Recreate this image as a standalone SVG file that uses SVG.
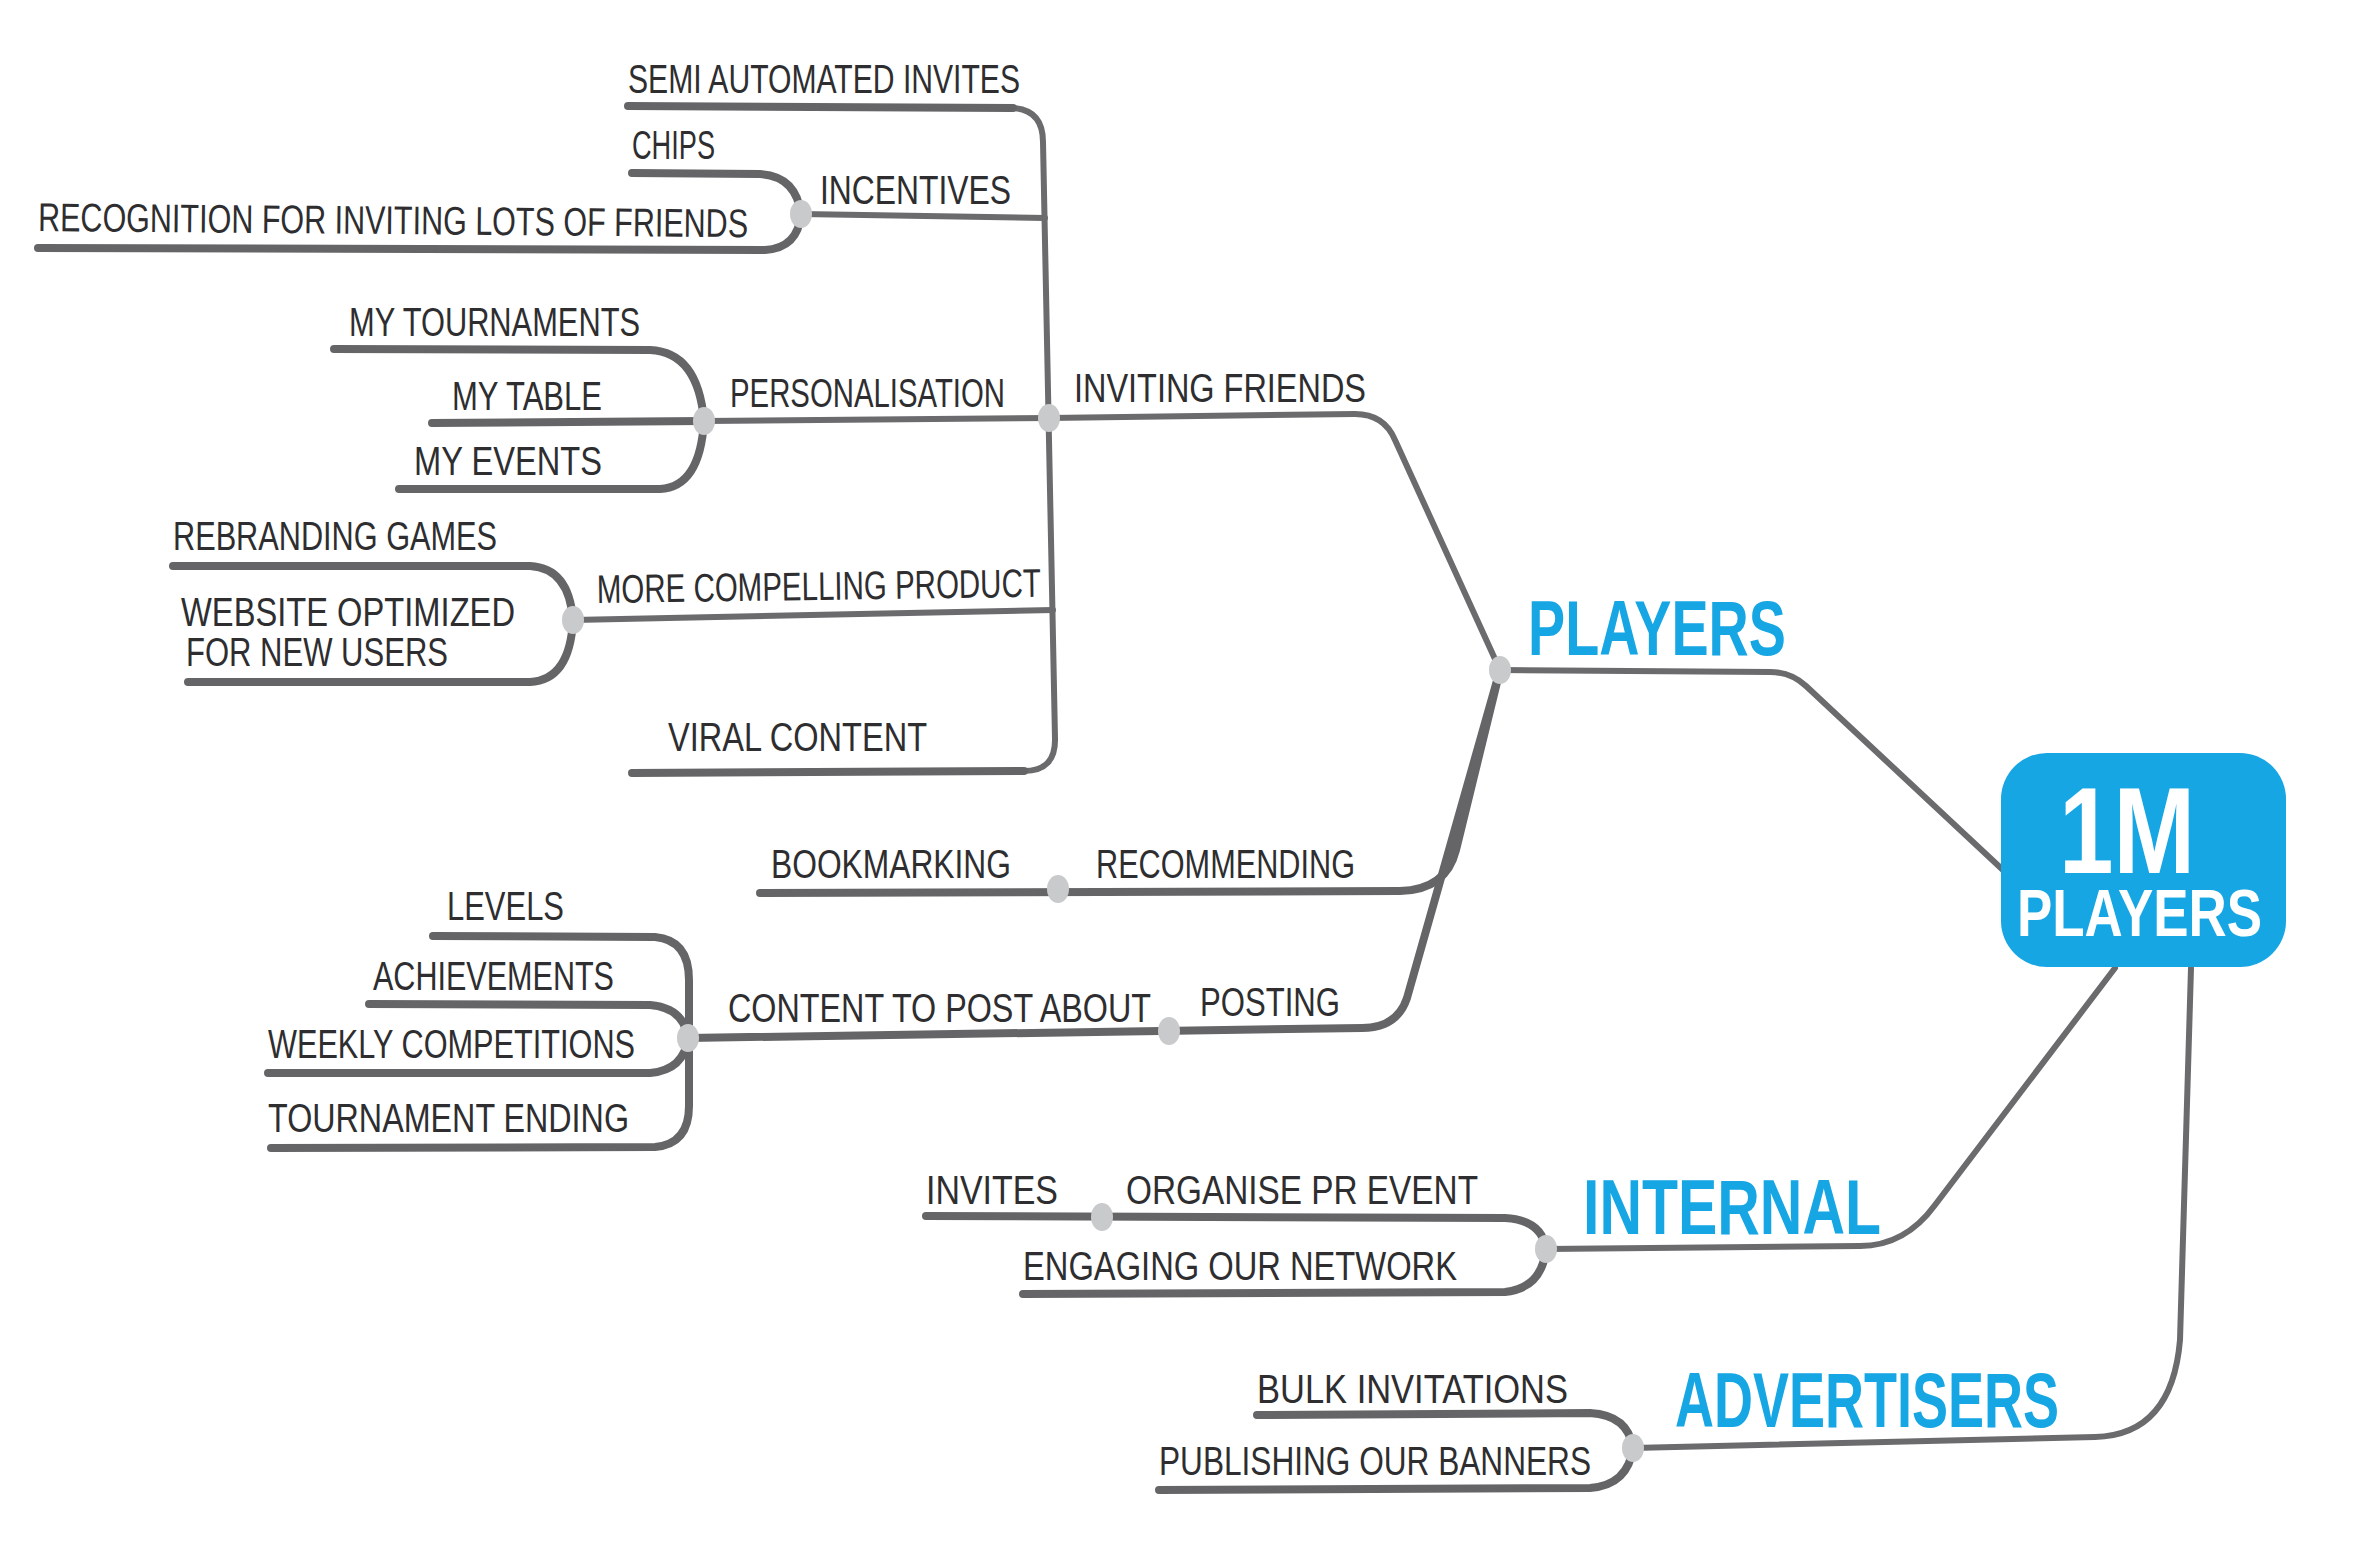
<svg xmlns="http://www.w3.org/2000/svg" width="2360" height="1548" viewBox="0 0 2360 1548">
  <style>
    .ln { fill: none; stroke: #6b6b6e; stroke-width: 6; stroke-linecap: round; stroke-linejoin: round; }
    .ul { fill: none; stroke: #656568; stroke-width: 8; stroke-linecap: round; stroke-linejoin: round; }
    .dot { fill: #c9cacc; }
    .lbl { font-family: "Liberation Sans Narrow", "Liberation Sans", Arial, sans-serif; font-size: 40px; fill: #2e2e30; }
    .cat { font-family: "Liberation Sans Narrow", "Liberation Sans", Arial, sans-serif; font-size: 78px; font-weight: bold; fill: #17a6e4; }
    .hub { font-family: "Liberation Sans", Arial, sans-serif; font-weight: bold; fill: #ffffff; }
  </style>

  <rect width="2360" height="1548" fill="#ffffff"/>

  <!-- branch lines -->
  <g id="connectors">
    <!-- hub to main branches -->
    <path class="ln" d="M 2003 870 L 1806 686 Q 1791 672 1770 672 L 1500 670"/>
    <path class="ln" d="M 2115 968 L 1935 1205 Q 1905 1246 1860 1246 L 1546 1249"/>
    <path class="ln" d="M 2191 968 L 2180 1340 Q 2172 1435 2095 1437 L 1633 1448"/>

    <!-- players branch -->
    <path class="ln" d="M 1500 670 L 1395 440 Q 1384 414 1355 414 L 1049 418"/>
    <path class="ul" d="M 1500 670 L 1456 850 Q 1446 890 1400 891 L 760 893"/>
    <path class="ul" d="M 1500 670 L 1407 998 Q 1397 1028 1362 1028 L 688 1038"/>

    <!-- inviting friends trunk -->
    <path class="ln" d="M 628 106 L 1013 108 Q 1043 110 1043 142 L 1055 738 Q 1056 771 1024 771"/>
    <path class="ul" d="M 1024 771 L 632 773"/>
    <path class="ul" d="M 628 106 L 1013 108"/>

    <!-- incentives -->
    <path class="ln" d="M 801 214 L 1045 218"/>
    <path class="ul" d="M 632 173 L 760 174 Q 796 176 801 214"/>
    <path class="ul" d="M 38 248 L 765 250 Q 798 248 801 214"/>

    <!-- personalisation -->
    <path class="ln" d="M 704 421 L 1049 418"/>
    <path class="ul" d="M 334 349 L 650 350 Q 698 352 704 421"/>
    <path class="ul" d="M 432 423 L 704 421"/>
    <path class="ul" d="M 399 489 L 660 489 Q 700 487 704 421"/>

    <!-- more compelling product -->
    <path class="ln" d="M 573 620 L 1053 610"/>
    <path class="ul" d="M 173 566 L 530 566 Q 569 568 573 620"/>
    <path class="ul" d="M 188 682 L 530 682 Q 570 680 573 620"/>

    <!-- content to post about -->
    <path class="ul" d="M 433 936 L 655 937 Q 689 940 689 980 L 689 1038"/>
    <path class="ul" d="M 369 1004 L 650 1005 Q 684 1008 688 1038"/>
    <path class="ul" d="M 268 1073 L 650 1073 Q 684 1070 688 1038"/>
    <path class="ul" d="M 271 1148 L 655 1147 Q 689 1144 689 1106 L 689 1038"/>

    <!-- internal -->
    <path class="ul" d="M 926 1216 L 1505 1218 Q 1542 1220 1546 1249"/>
    <path class="ul" d="M 1023 1294 L 1505 1292 Q 1542 1288 1546 1249"/>

    <!-- advertisers -->
    <path class="ul" d="M 1257 1415 L 1590 1413 Q 1628 1415 1633 1448"/>
    <path class="ul" d="M 1159 1490 L 1590 1488 Q 1628 1485 1633 1448"/>
  </g>

  <!-- central hub -->
  <g id="hub">
    <rect x="2001" y="753" width="285" height="214" rx="46" fill="#17a6e4"/>
    <text class="hub" x="2127" y="873" font-size="122" text-anchor="middle" textLength="136" lengthAdjust="spacingAndGlyphs">1M</text>
    <text class="hub" x="2017" y="936" font-size="66" textLength="245" lengthAdjust="spacingAndGlyphs">PLAYERS</text>
  </g>

  <!-- main branches -->
  <g id="players">
    <ellipse class="dot" cx="1500" cy="670" rx="11" ry="14"/>
    <text class="cat" x="1528" y="655" textLength="258" lengthAdjust="spacingAndGlyphs">PLAYERS</text>
  </g>
  <g id="internal">
    <ellipse class="dot" cx="1546" cy="1249" rx="11" ry="14"/>
    <text class="cat" x="1583" y="1234" textLength="298" lengthAdjust="spacingAndGlyphs">INTERNAL</text>
  </g>
  <g id="advertisers">
    <ellipse class="dot" cx="1633" cy="1448" rx="11" ry="14"/>
    <text class="cat" x="1675" y="1427" textLength="384" lengthAdjust="spacingAndGlyphs">ADVERTISERS</text>
  </g>

  <!-- players: inviting friends -->
  <g id="inviting-friends">
    <ellipse class="dot" cx="1049" cy="418" rx="11" ry="14"/>
    <text class="lbl" x="1074" y="402" textLength="292" lengthAdjust="spacingAndGlyphs">INVITING FRIENDS</text>
  </g>
  <g id="semi-automated-invites">
    <text class="lbl" x="628" y="93" textLength="392" lengthAdjust="spacingAndGlyphs">SEMI AUTOMATED INVITES</text>
  </g>
  <g id="incentives">
    <ellipse class="dot" cx="801" cy="214" rx="11" ry="14"/>
    <text class="lbl" x="820" y="204" textLength="191" lengthAdjust="spacingAndGlyphs">INCENTIVES</text>
  </g>
  <g id="chips">
    <text class="lbl" x="632" y="159" textLength="83" lengthAdjust="spacingAndGlyphs">CHIPS</text>
  </g>
  <g id="recognition">
    <text class="lbl" x="38" y="231" textLength="710" lengthAdjust="spacingAndGlyphs" transform="rotate(0.5 38 231)">RECOGNITION FOR INVITING LOTS OF FRIENDS</text>
  </g>
  <g id="personalisation">
    <ellipse class="dot" cx="704" cy="421" rx="11" ry="14"/>
    <text class="lbl" x="730" y="407" textLength="275" lengthAdjust="spacingAndGlyphs">PERSONALISATION</text>
  </g>
  <g id="my-tournaments">
    <text class="lbl" x="349" y="336" textLength="291" lengthAdjust="spacingAndGlyphs">MY TOURNAMENTS</text>
  </g>
  <g id="my-table">
    <text class="lbl" x="452" y="410" textLength="150" lengthAdjust="spacingAndGlyphs">MY TABLE</text>
  </g>
  <g id="my-events">
    <text class="lbl" x="414" y="475" textLength="188" lengthAdjust="spacingAndGlyphs">MY EVENTS</text>
  </g>
  <g id="more-compelling-product">
    <ellipse class="dot" cx="573" cy="620" rx="11" ry="14"/>
    <text class="lbl" x="597" y="603" textLength="444" lengthAdjust="spacingAndGlyphs" transform="rotate(-0.8 597 603)">MORE COMPELLING PRODUCT</text>
  </g>
  <g id="rebranding-games">
    <text class="lbl" x="173" y="550" textLength="324" lengthAdjust="spacingAndGlyphs">REBRANDING GAMES</text>
  </g>
  <g id="website-optimized">
    <text class="lbl" x="181" y="626" textLength="334" lengthAdjust="spacingAndGlyphs">WEBSITE OPTIMIZED</text>
    <text class="lbl" x="186" y="666" textLength="262" lengthAdjust="spacingAndGlyphs">FOR NEW USERS</text>
  </g>
  <g id="viral-content">
    <text class="lbl" x="668" y="751" textLength="259" lengthAdjust="spacingAndGlyphs">VIRAL CONTENT</text>
  </g>

  <!-- players: recommending -->
  <g id="recommending">
    <ellipse class="dot" cx="1058" cy="889" rx="11" ry="14"/>
    <text class="lbl" x="1096" y="878" textLength="259" lengthAdjust="spacingAndGlyphs">RECOMMENDING</text>
  </g>
  <g id="bookmarking">
    <text class="lbl" x="771" y="878" textLength="240" lengthAdjust="spacingAndGlyphs">BOOKMARKING</text>
  </g>

  <!-- players: posting -->
  <g id="posting">
    <ellipse class="dot" cx="1169" cy="1031" rx="11" ry="14"/>
    <text class="lbl" x="1200" y="1016" textLength="140" lengthAdjust="spacingAndGlyphs">POSTING</text>
  </g>
  <g id="content-to-post-about">
    <ellipse class="dot" cx="688" cy="1038" rx="11" ry="14"/>
    <text class="lbl" x="728" y="1022" textLength="423" lengthAdjust="spacingAndGlyphs">CONTENT TO POST ABOUT</text>
  </g>
  <g id="levels">
    <text class="lbl" x="447" y="920" textLength="117" lengthAdjust="spacingAndGlyphs">LEVELS</text>
  </g>
  <g id="achievements">
    <text class="lbl" x="373" y="990" textLength="241" lengthAdjust="spacingAndGlyphs">ACHIEVEMENTS</text>
  </g>
  <g id="weekly-competitions">
    <text class="lbl" x="268" y="1058" textLength="367" lengthAdjust="spacingAndGlyphs">WEEKLY COMPETITIONS</text>
  </g>
  <g id="tournament-ending">
    <text class="lbl" x="268" y="1132" textLength="361" lengthAdjust="spacingAndGlyphs">TOURNAMENT ENDING</text>
  </g>

  <!-- internal -->
  <g id="organise-pr-event">
    <ellipse class="dot" cx="1102" cy="1217" rx="11" ry="14"/>
    <text class="lbl" x="1126" y="1204" textLength="352" lengthAdjust="spacingAndGlyphs">ORGANISE PR EVENT</text>
  </g>
  <g id="invites">
    <text class="lbl" x="926" y="1204" textLength="132" lengthAdjust="spacingAndGlyphs">INVITES</text>
  </g>
  <g id="engaging-our-network">
    <text class="lbl" x="1023" y="1280" textLength="434" lengthAdjust="spacingAndGlyphs">ENGAGING OUR NETWORK</text>
  </g>

  <!-- advertisers -->
  <g id="bulk-invitations">
    <text class="lbl" x="1257" y="1403" textLength="311" lengthAdjust="spacingAndGlyphs">BULK INVITATIONS</text>
  </g>
  <g id="publishing-our-banners">
    <text class="lbl" x="1159" y="1475" textLength="432" lengthAdjust="spacingAndGlyphs">PUBLISHING OUR BANNERS</text>
  </g>
</svg>
